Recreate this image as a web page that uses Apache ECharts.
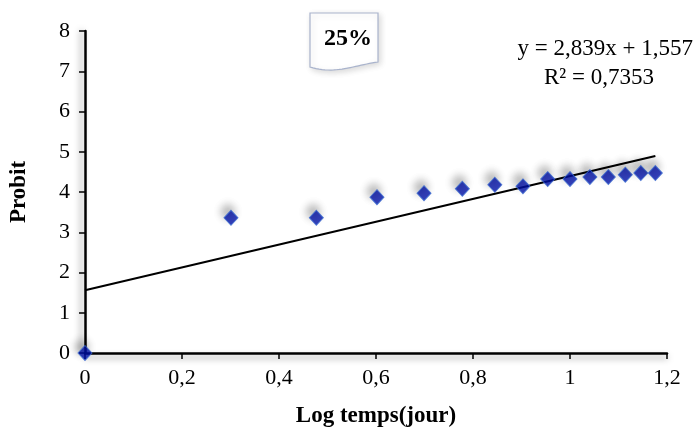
<!DOCTYPE html>
<html>
<head>
<meta charset="utf-8">
<script src="https://cdn.jsdelivr.net/npm/echarts@6/dist/echarts.min.js"></script>
<style>html,body{margin:0;padding:0;background:#fff}#c{width:695px;height:435px}</style>
</head>
<body>
<div id="c"></div>
<script>
// Data
var logTemps = [0, 0.301, 0.477, 0.602, 0.699, 0.778, 0.845, 0.903, 0.954, 1.0, 1.041, 1.079, 1.114, 1.146, 1.176];
var probit   = [0, 3.36, 3.36, 3.87, 3.97, 4.08, 4.18, 4.14, 4.32, 4.32, 4.37, 4.37, 4.43, 4.47, 4.47];
var xTicks = [0, 0.2, 0.4, 0.6, 0.8, 1, 1.2];
var yTicks = [0, 1, 2, 3, 4, 5, 6, 7, 8];
var slope = 2.839, intercept = 1.557;
var trendX = [0, 1.176];
var titleText = '25%';
var eqText = 'y = 2,839x + 1,557';
var r2Text = 'R² = 0,7353';

var FONT = '"Liberation Serif", "Times New Roman", serif';
var pts = logTemps.map(function (x, i) { return [x, probit[i]]; });
var trend = trendX.map(function (x) { return [x, slope * x + intercept]; });

// document-shape outline for the title box (wavy bottom: lower on the left)
var boxW = 68;
var boxPts = [[0, 0], [boxW, 0], [boxW, 49]];
var p0 = [boxW, 49], c1 = [45, 52], c2 = [25, 62], p3 = [0, 54];
for (var i = 1; i <= 24; i++) {
  var t = i / 24, u = 1 - t;
  boxPts.push([
    u*u*u*p0[0] + 3*u*u*t*c1[0] + 3*u*t*t*c2[0] + t*t*t*p3[0],
    u*u*u*p0[1] + 3*u*u*t*c1[1] + 3*u*t*t*c2[1] + t*t*t*p3[1]
  ]);
}

var chart = echarts.init(document.getElementById('c'), null, {renderer: 'canvas'});
chart.setOption({
  animation: false,
  backgroundColor: '#fff',
  grid: {left: 83, right: 28, top: 31, bottom: 82},
  xAxis: {
    type: 'value', min: 0, max: 1.2, interval: 0.2,
    name: 'Log temps(jour)', nameLocation: 'middle', nameGap: 52,
    nameTextStyle: {fontFamily: FONT, fontWeight: 'bold', fontSize: 23, color: '#000'},
    axisLine: {show: true, onZero: false, lineStyle: {color: '#000', width: 2.5, shadowColor: 'rgba(0,0,0,0.35)', shadowBlur: 6, shadowOffsetY: 4}},
    axisTick: {show: true, inside: false, length: 6, lineStyle: {color: '#000', width: 1.5}},
    axisLabel: {fontFamily: FONT, fontSize: 22, color: '#000', margin: 14,
      formatter: function (v) { return String(Math.round(v * 10) / 10).replace('.', ','); }},
    splitLine: {show: false}
  },
  yAxis: {
    type: 'value', min: 0, max: 8, interval: 1,
    name: 'Probit', nameLocation: 'middle', nameGap: 54, nameRotate: 90,
    nameTextStyle: {fontFamily: FONT, fontWeight: 'bold', fontSize: 23, color: '#000'},
    axisLine: {show: true, onZero: false, lineStyle: {color: '#000', width: 2.5, shadowColor: 'rgba(0,0,0,0.35)', shadowBlur: 6, shadowOffsetX: -4}},
    axisTick: {show: true, inside: false, length: 6, lineStyle: {color: '#000', width: 1.5}},
    axisLabel: {fontFamily: FONT, fontSize: 22, color: '#000', margin: 15},
    splitLine: {show: false}
  },
  series: [
    {
      type: 'line', data: trend, symbol: 'none', silent: true,
      lineStyle: {color: '#000', width: 2}, z: 2
    },
    {
      type: 'scatter', data: pts, symbol: 'diamond', symbolSize: [14, 15],
      itemStyle: {color: '#0010a8', borderColor: '#3a6ad0', borderWidth: 1,
        shadowColor: 'rgba(0,0,0,0.4)', shadowBlur: 8, shadowOffsetX: -3, shadowOffsetY: -6},
      z: 3
    }
  ],
  graphic: [
    {
      type: 'polygon', x: 310, y: 13, z: 10,
      shape: {points: boxPts},
      style: {fill: '#fff', stroke: '#a9b3cc', lineWidth: 1.2, shadowColor: 'rgba(0,0,0,0.15)', shadowBlur: 6, shadowOffsetX: 2, shadowOffsetY: 2}
    },
    {
      type: 'text', x: 324, y: 27, z: 11,
      style: {text: titleText, font: 'bold 24px ' + FONT, fill: '#000'}
    },
    {
      type: 'text', x: 693, y: 37, z: 11,
      style: {text: eqText, font: '23px ' + FONT, fill: '#000', align: 'right'}
    },
    {
      type: 'text', x: 599, y: 66, z: 11,
      style: {text: r2Text, font: '23px ' + FONT, fill: '#000', align: 'center'}
    }
  ]
});
</script>
</body>
</html>
